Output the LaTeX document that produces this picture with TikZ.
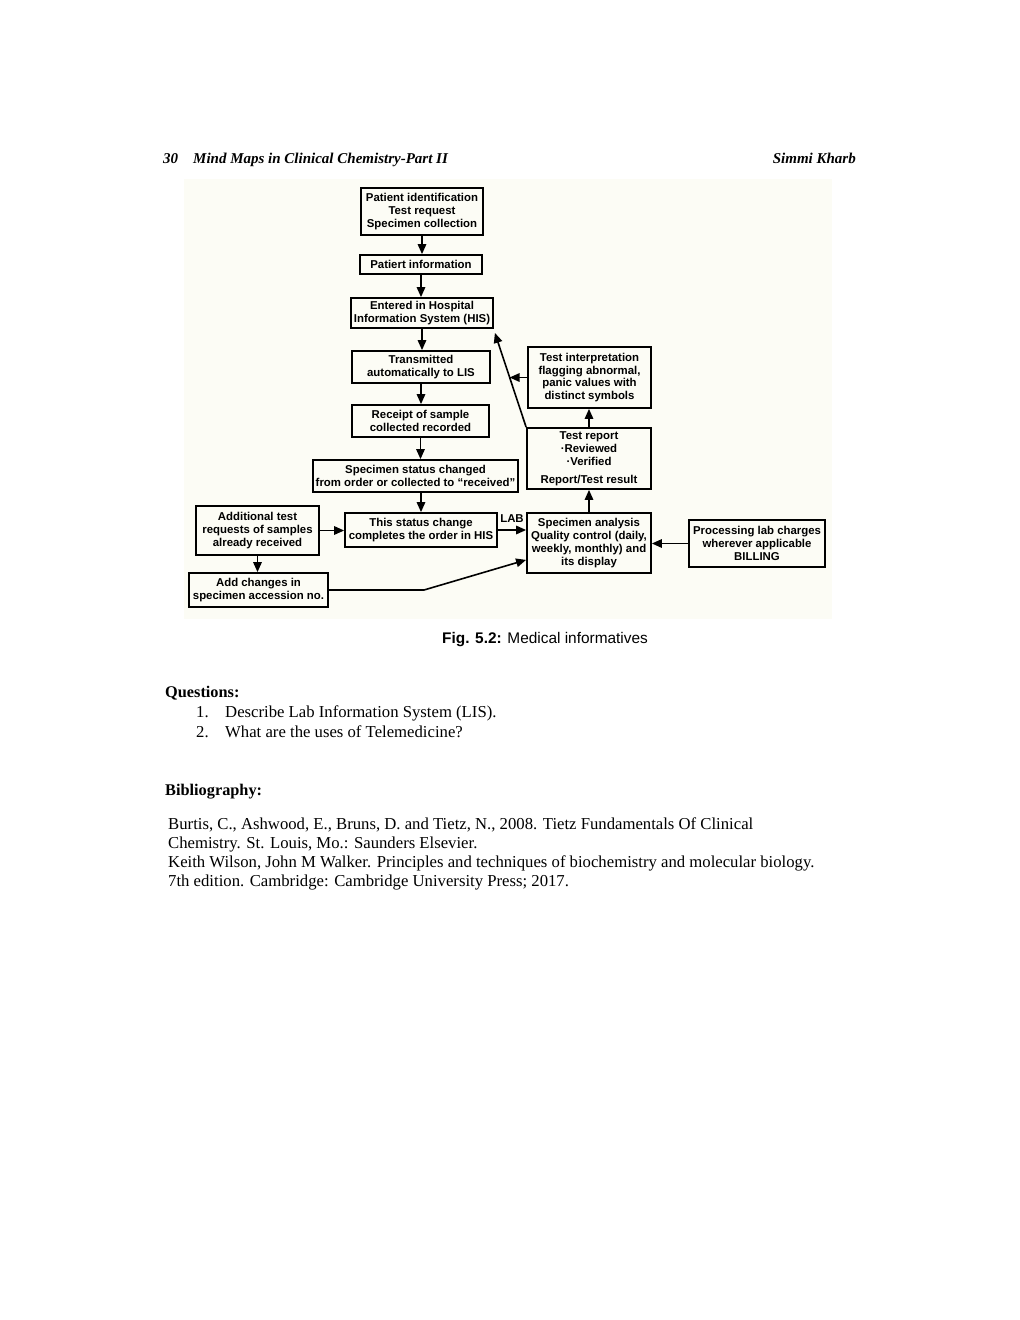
\documentclass[tikz,border=0pt]{standalone}
\usepackage{fontspec}
\setmainfont{Liberation Serif}
\newfontfamily\diafont{Liberation Sans}
\usetikzlibrary{arrows.meta,calc}
\definecolor{cream}{HTML}{FCFCF5}
\begin{document}
\begin{tikzpicture}[x=1pt,y=-1pt,
  box/.style={draw=black, line width=1.8pt, align=center, inner sep=1pt,
    font=\diafont\bfseries\fontsize{11.4}{12.9}\selectfont},
  arr/.style={line width=1.6pt, -{Triangle[length=10pt,width=8.5pt]}},
  body/.style={anchor=base west, inner sep=0pt, font=\fontsize{16.7}{19}\selectfont},
  head/.style={anchor=base west, inner sep=0pt, font=\bfseries\itshape\fontsize{15}{18}\selectfont},
  bhead/.style={anchor=base west, inner sep=0pt, font=\bfseries\fontsize{16.3}{19}\selectfont},
  capstyle/.style={anchor=base, inner sep=0pt, font=\diafont\fontsize{15.4}{18}\selectfont}]
\useasboundingbox (0,0) rectangle (1020,1320);
\fill[white] (0,0) rectangle (1020,1320);
\fill[cream] (184,179) rectangle (832,619);

% header
\node[head] (pg) at (163,163) {30};
\node[head] (ttl) at (193,163) {Mind Maps in Clinical Chemistry-Part II};
\node[head, anchor=base east] (auth) at (856,163) {Simmi Kharb};

% diagram boxes
\node[box, minimum width=122pt, minimum height=47pt] (A) at (422,211.5)
  {Patient identification\\Test request\\Specimen collection};
\node[box, minimum width=122pt, minimum height=19pt] (B) at (421,264.5)
  {Patiert information};
\node[box, minimum width=142pt, minimum height=30pt] (C) at (422,313)
  {Entered in Hospital\\Information System (HIS)};
\node[box, minimum width=138pt, minimum height=32pt] (D) at (421,367)
  {Transmitted\\automatically to LIS};
\node[box, minimum width=137pt, minimum height=32pt] (E) at (420.5,421)
  {Receipt of sample\\collected recorded};
\node[box, minimum width=205pt, minimum height=32pt] (F) at (415.5,476)
  {Specimen status changed\\from order or collected to “received”};
\node[box, minimum width=152pt, minimum height=34pt] (G) at (421,530)
  {This status change\\completes the order in HIS};
\node[box, minimum width=123pt, minimum height=49pt] (H) at (257.5,530.5)
  {Additional test\\requests of samples\\already received};
\node[box, minimum width=139pt, minimum height=34pt] (I) at (258.5,590)
  {Add changes in\\specimen accession no.};
\node[box, minimum width=124pt, minimum height=60pt] (J) at (589,543)
  {Specimen analysis\\Quality control (daily,\\weekly, monthly) and\\its display};
\node[box, minimum width=136pt, minimum height=47pt] (K) at (757,543.5)
  {Processing lab charges\\wherever applicable\\BILLING};
\node[box, minimum width=124pt, minimum height=61pt] (L) at (589,458.5)
  {Test report\\·Reviewed\\·Verified\\[5pt]Report/Test result};
\node[box, minimum width=123pt, minimum height=61pt] (M) at (589.5,377.5)
  {Test interpretation\\flagging abnormal,\\panic values with\\distinct symbols};

% connectors
\draw[arr] (A.south) -- (A.south |- B.north);
\draw[arr] (B.south) -- (B.south |- C.north);
\draw[arr] (C.south) -- (C.south |- D.north);
\draw[arr] (D.south) -- (D.south |- E.north);
\draw[arr] (E.south) -- (E.south |- F.north);
\draw[arr] (G.north |- F.south) -- (G.north);
\draw[arr] (H.east) -- (H.east -| G.west);
\draw[arr] (H.south) -- (H.south |- I.north);
\draw[arr] (G.east) -- node[above=7pt, inner sep=0pt, font=\diafont\bfseries\fontsize{11.4}{12.9}\selectfont] (lab) {LAB} (G.east -| J.west);
\coordinate (bend) at (424,590);
\draw[arr] (I.east) -- (bend) -- ([yshift=14pt]J.south west);
\draw[arr] (K.west) -- (K.west -| J.east);
\draw[arr] (J.north) -- (J.north |- L.south);
\draw[arr] (L.north) -- (L.north |- M.south);
\coordinate (tipC) at ([xshift=1pt,yshift=-4pt]C.south east);
\draw[arr] (L.north west) -- (tipC);
\coordinate (q) at ($(L.north west)!0.53!(tipC)$);
\draw[arr] (M.west) -- (M.west -| q);

% caption
\node[capstyle] (capt) at (545,643) {\textbf{Fig. 5.2:} Medical informatives};

% questions
\node[bhead] (qh) at (165,697) {Questions:};
\node[body] (q1n) at (196,717) {1.};
\node[body] (q1) at (225,717) {Describe Lab Information System (LIS).};
\node[body] (q2n) at (196,737) {2.};
\node[body] (q2) at (225,737) {What are the uses of Telemedicine?};

% bibliography
\node[bhead] (bh) at (165,795) {Bibliography:};
\node[body] (b1) at (168,829) {Burtis, C., Ashwood, E., Bruns, D. and Tietz, N., 2008. Tietz Fundamentals Of Clinical};
\node[body] (b2) at (168,848) {Chemistry. St. Louis, Mo.: Saunders Elsevier.};
\node[body] (b3) at (168,867) {Keith Wilson, John M Walker. Principles and techniques of biochemistry and molecular biology.};
\node[body] (b4) at (168,886) {7th edition. Cambridge: Cambridge University Press; 2017.};
\end{tikzpicture}
\end{document}
